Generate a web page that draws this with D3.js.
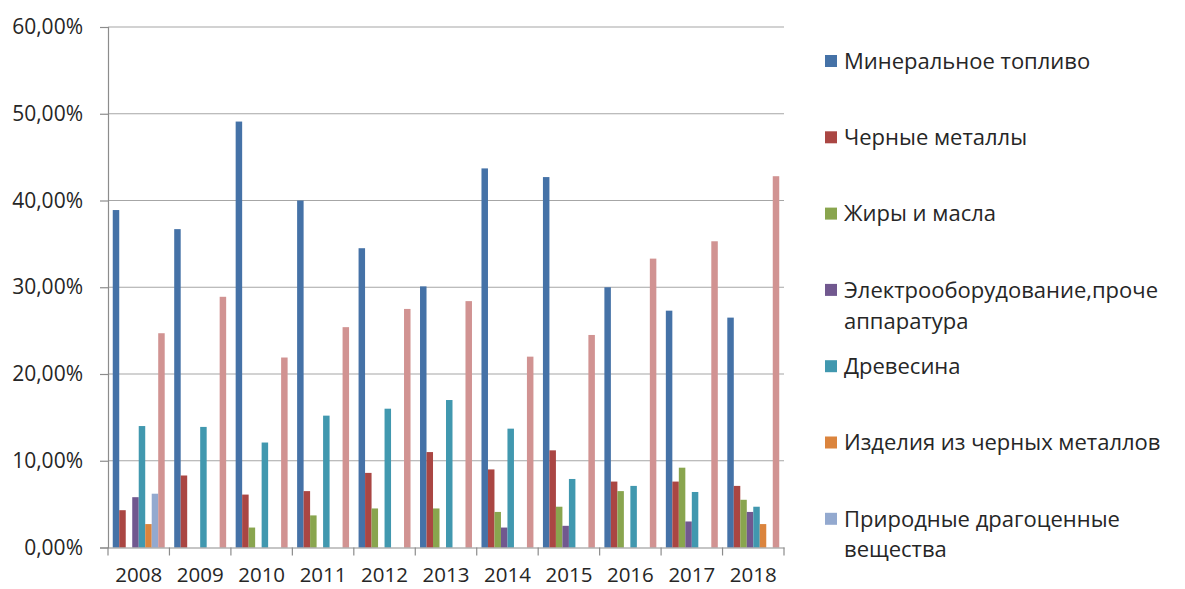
<!DOCTYPE html>
<html>
<head>
<meta charset="utf-8">
<script src="https://cdn.jsdelivr.net/npm/d3@7"></script>
<style>
  body { margin: 0; background: #fff; }
  svg text { font-family: "Open Sans", sans-serif; fill: #262626; }
</style>
</head>
<body>
<svg id="chart"></svg>
<script>
// years on the x axis
const years = ["2008", "2009", "2010", "2011", "2012", "2013", "2014", "2015", "2016", "2017", "2018"];

// shares, in percent
const mineralFuel   = [38.9, 36.7, 49.1, 40.0, 34.5, 30.1, 43.7, 42.7, 30.0, 27.3, 26.5];
const ferrousMetals = [4.3, 8.3, 6.1, 6.5, 8.6, 11.0, 9.0, 11.2, 7.6, 7.6, 7.1];
const fatsOils      = [0, 0, 2.3, 3.7, 4.5, 4.5, 4.1, 4.7, 6.5, 9.2, 5.5];
const electrical    = [5.8, 0, 0, 0, 0, 0, 2.3, 2.5, 0, 3.0, 4.1];
const wood          = [14.0, 13.9, 12.1, 15.2, 16.0, 17.0, 13.7, 7.9, 7.1, 6.4, 4.7];
const ferrousGoods  = [2.7, 0, 0, 0, 0, 0, 0, 0, 0, 0, 2.7];
const gems          = [6.2, 0, 0, 0, 0, 0, 0, 0, 0, 0, 0];
const other         = [24.7, 28.9, 21.9, 25.4, 27.5, 28.4, 22.0, 24.5, 33.3, 35.3, 42.8];

const yTicks = [0, 10, 20, 30, 40, 50, 60];

const series = [
  { name: ["Минеральное топливо"], values: mineralFuel, color: "#4572A7" },
  { name: ["Черные металлы"], values: ferrousMetals, color: "#AA4643" },
  { name: ["Жиры и масла"], values: fatsOils, color: "#89A54E" },
  { name: ["Электрооборудование,проче", "аппаратура"], values: electrical, color: "#71588F" },
  { name: ["Древесина"], values: wood, color: "#4198AF" },
  { name: ["Изделия из черных металлов"], values: ferrousGoods, color: "#DB843D" },
  { name: ["Природные драгоценные", "вещества"], values: gems, color: "#93A9CF" },
  { name: null, values: other, color: "#D19392" } // not in the legend (cut off)
];

let svgWidth = 1185, svgHeight = 589
let plot = {left: 108, right: 784, top: 27, bottom: 547.5}

let svg = d3.select("#chart")
  .attr("width", svgWidth)
  .attr("height", svgHeight)

let x = d3.scaleBand() // one band per year
  .domain(years)
  .range([plot.left, plot.right])

let gap = 4.75
let xInner = d3.scaleBand() // bars inside a year
  .domain(d3.range(series.length))
  .range([gap, x.bandwidth() - gap])

let y = d3.scaleLinear()
  .domain([0, 60])
  .range([plot.bottom, plot.top])

const ru = d3.formatLocale({decimal: ",", thousands: " ", grouping: [3], currency: ["", ""]})
const pct = v => ru.format(".2f")(v) + "%"

// gridlines
svg.append("g")
  .selectAll("line")
  .data(yTicks.slice(1))
  .join("line")
  .attr("x1", plot.left).attr("x2", plot.right)
  .attr("y1", d => y(d)).attr("y2", d => y(d))
  .attr("stroke", "#a6a6a6")
  .attr("stroke-width", 1.2)

// bars
let groups = svg.append("g")
  .selectAll("g")
  .data(series)
  .join("g")
  .attr("fill", d => d.color)

groups.selectAll("rect")
  .data((s, i) => s.values.map((v, j) => ({v, year: years[j], i})))
  .join("rect")
  .attr("x", d => x(d.year) + xInner(d.i))
  .attr("width", xInner.bandwidth())
  .attr("y", d => y(d.v))
  .attr("height", d => y(0) - y(d.v))

// y axis
let yAxis = d3.axisLeft(y)
  .tickValues(yTicks)
  .tickSize(8)
  .tickPadding(17)
  .tickFormat(pct)

let gy = svg.append("g")
  .attr("transform", `translate(${plot.left}, 0)`)
  .call(yAxis)
gy.select(".domain").attr("stroke", "#8c8c8c").attr("stroke-width", 1.2)
gy.selectAll(".tick line").attr("stroke", "#8c8c8c").attr("stroke-width", 1.2)
gy.selectAll("text").attr("font-size", 21).attr("fill", "#262626")
  .style("font-family", "'Open Sans', sans-serif")

// x axis
let xAxis = d3.axisBottom(x)
  .tickSize(0)
  .tickPadding(20)

let gx = svg.append("g")
  .attr("transform", `translate(0, ${plot.bottom})`)
  .call(xAxis)
gx.select(".domain").attr("stroke", "#8c8c8c").attr("stroke-width", 1.2)
gx.selectAll("text").attr("font-size", 20.5).attr("fill", "#262626")
  .style("font-family", "'Open Sans', sans-serif")

// ticks between categories
gx.append("g")
  .selectAll("line")
  .data(years.map(d => x(d)).concat([plot.right]))
  .join("line")
  .attr("x1", d => d).attr("x2", d => d)
  .attr("y1", 0).attr("y2", 8)
  .attr("stroke", "#8c8c8c")
  .attr("stroke-width", 1.2)

// legend
let legendTop = 61, legendStep = 76.3, lineH = 31
let legend = svg.append("g")
  .selectAll("g")
  .data(series.filter(s => s.name))
  .join("g")
  .attr("transform", (d, i) => `translate(825, ${legendTop + i * legendStep})`)

legend.append("rect")
  .attr("x", 0).attr("y", -6)
  .attr("width", 12).attr("height", 12)
  .attr("fill", d => d.color)

legend.append("text")
  .attr("font-size", 22)
  .selectAll("tspan")
  .data(d => d.name)
  .join("tspan")
  .attr("x", 19)
  .attr("y", (d, i) => i * lineH)
  .attr("dy", "0.35em")
  .text(d => d)
</script>
</body>
</html>
